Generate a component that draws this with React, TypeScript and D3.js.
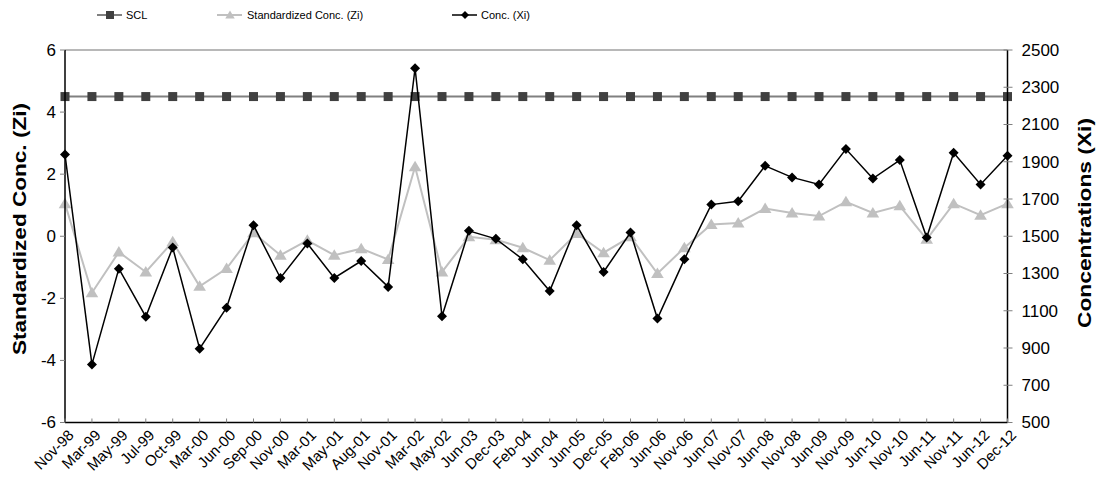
import React from "react";
import * as d3 from "d3";

const categories = ["Nov-98","Mar-99","May-99","Jul-99","Oct-99","Mar-00","Jun-00","Sep-00","Nov-00","Mar-01","May-01","Aug-01","Nov-01","Mar-02","May-02","Jun-03","Dec-03","Feb-04","Jun-04","Jun-05","Dec-05","Feb-06","Jun-06","Nov-06","Jun-07","Nov-07","Jun-08","Nov-08","Jun-09","Nov-09","Jun-10","Nov-10","Jun-11","Nov-11","Jun-12","Dec-12"];

const concXi = [1939,812,1326,1068,1439,896,1116,1559,1276,1461,1276,1367,1228,2402,1070,1529,1486,1376,1206,1559,1308,1520,1058,1376,1670,1688,1878,1816,1778,1968,1810,1909,1493,1948,1778,1932];

const standardizedZi = [1.05,-1.82,-0.51,-1.15,-0.18,-1.61,-1.04,0.11,-0.61,-0.13,-0.61,-0.40,-0.75,2.24,-1.15,-0.02,-0.11,-0.37,-0.77,0.09,-0.53,-0.02,-1.2,-0.37,0.38,0.43,0.89,0.75,0.65,1.11,0.75,0.98,-0.1,1.05,0.68,1.05];

const sclValue = 4.5;
const sclSeries = categories.map(() => sclValue);

const leftTicks = [-6,-4,-2,0,2,4,6];
const rightTicks = [500,700,900,1100,1300,1500,1700,1900,2100,2300,2500];

const W = 1097, H = 477;
const M = { left: 65, right: 1007.5, top: 50, bottom: 422.5 };
const FONT = "'Liberation Sans', Arial, sans-serif";

export default function App() {
  const x = d3.scalePoint<string>().domain(categories).range([M.left, M.right]).padding(0);
  const yL = d3.scaleLinear().domain([-6, 6]).range([M.bottom, M.top]);
  const yR = d3.scaleLinear().domain([500, 2500]).range([M.bottom, M.top]);

  const lineL = d3.line<number>().x((_, i) => x(categories[i])!).y((d) => yL(d));
  const lineR = d3.line<number>().x((_, i) => x(categories[i])!).y((d) => yR(d));

  const sq = 9;
  const diamond = (cx: number, cy: number, r: number) => `M${cx},${cy - r}L${cx + r},${cy}L${cx},${cy + r}L${cx - r},${cy}Z`;
  const tri = (cx: number, cy: number, r: number) => `M${cx},${cy - r}L${cx + r * 1.05},${cy + r * 0.75}L${cx - r * 1.05},${cy + r * 0.75}Z`;

  return (
    <svg width={W} height={H} style={{ position: "absolute", left: 0, top: 0, background: "#fff" }} fontFamily={FONT}>
      {/* top border */}
      <line x1={M.left} x2={M.right} y1={M.top} y2={M.top} stroke="#a0a0a0" strokeWidth={1.5} />

      {/* SCL */}
      <path d={lineL(sclSeries) || ""} fill="none" stroke="#808080" strokeWidth={2} />
      {sclSeries.map((d, i) => (
        <rect key={"s" + i} x={x(categories[i])! - sq / 2} y={yL(d) - sq / 2} width={sq} height={sq} fill="#404040" />
      ))}

      {/* Standardized */}
      <path d={lineL(standardizedZi) || ""} fill="none" stroke="#c0c0c0" strokeWidth={2} />
      {standardizedZi.map((d, i) => (
        <path key={"t" + i} d={tri(x(categories[i])!, yL(d), 6)} fill="#c0c0c0" />
      ))}

      {/* Conc */}
      <path d={lineR(concXi) || ""} fill="none" stroke="#000" strokeWidth={1.5} />
      {concXi.map((d, i) => (
        <path key={"d" + i} d={diamond(x(categories[i])!, yR(d), 5)} fill="#000" />
      ))}

      {/* left axis */}
      <line x1={M.left} x2={M.left} y1={M.top} y2={M.bottom} stroke="#000" strokeWidth={1.5} />
      {leftTicks.map((t) => (
        <g key={"lt" + t}>
          <line x1={M.left - 5} x2={M.left} y1={yL(t)} y2={yL(t)} stroke="#808080" />
          <text x={M.left - 9} y={yL(t)} dy="0.35em" textAnchor="end" fontSize={17}>{t}</text>
        </g>
      ))}
      <text transform={`translate(19,229) rotate(-90)`} textAnchor="middle" dy="0.35em" fontSize={19} fontWeight="bold" textLength={252} lengthAdjust="spacingAndGlyphs">Standardized Conc. (Zi)</text>

      {/* right axis */}
      <line x1={M.right} x2={M.right} y1={M.top} y2={M.bottom} stroke="#000" strokeWidth={1.5} />
      {rightTicks.map((t) => (
        <g key={"rt" + t}>
          <line x1={M.right - 4} x2={M.right + 5} y1={yR(t)} y2={yR(t)} stroke="#808080" />
          <text x={M.right + 14} y={yR(t)} dy="0.35em" textAnchor="start" fontSize={17}>{t}</text>
        </g>
      ))}
      <text transform={`translate(1084,223) rotate(-90)`} textAnchor="middle" dy="0.35em" fontSize={19} fontWeight="bold" textLength={210} lengthAdjust="spacingAndGlyphs">Concentrations (Xi)</text>

      {/* bottom axis */}
      <line x1={M.left} x2={M.right} y1={M.bottom} y2={M.bottom} stroke="#000" strokeWidth={1.5} />
      {categories.map((c) => (
        <g key={"xt" + c}>
          <line x1={x(c)!} x2={x(c)!} y1={M.bottom} y2={M.bottom - 4} stroke="#808080" />
          <text transform={`translate(${x(c)! + 6},${M.bottom + 10}) rotate(-45)`} textAnchor="end" dy="0.35em" fontSize={15}>{c}</text>
        </g>
      ))}

      {/* legend */}
      <g fontSize={11}>
        <line x1={97} x2={122} y1={15} y2={15} stroke="#808080" strokeWidth={2} />
        <rect x={110 - 4} y={11} width={8} height={8} fill="#404040" />
        <text x={126} y={15} dy="0.35em">SCL</text>

        <line x1={217} x2={242} y1={15} y2={15} stroke="#c0c0c0" strokeWidth={2} />
        <path d={tri(230, 15, 4.5)} fill="#c0c0c0" />
        <text x={247} y={15} dy="0.35em">Standardized  Conc.  (Zi)</text>

        <line x1={452} x2={477} y1={15} y2={15} stroke="#000" strokeWidth={1.5} />
        <path d={diamond(465, 15, 4)} fill="#000" />
        <text x={481} y={15} dy="0.35em">Conc.  (Xi)</text>
      </g>
    </svg>
  );
}
